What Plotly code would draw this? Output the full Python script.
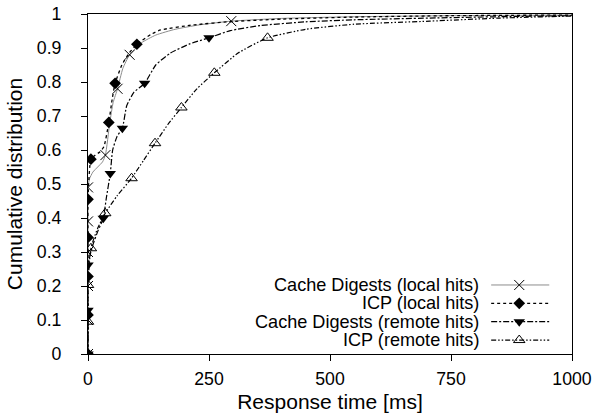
import plotly.graph_objects as go

# ---- data ----
series_names = ["Cache Digests (local hits)", "ICP (local hits)",
                "Cache Digests (remote hits)", "ICP (remote hits)"]

# line traces (response time ms, cumulative fraction)
cd_local_x = [0, 0, 0, 0, 0, 0, 3, 10, 20, 30, 36, 45, 52, 61, 72, 86, 110, 140, 180, 230, 296, 400, 550, 750, 1000]
cd_local_y = [0, 0.1, 0.2, 0.3, 0.39, 0.49, 0.515, 0.535, 0.55, 0.565, 0.585, 0.68, 0.74, 0.78, 0.84, 0.88, 0.915, 0.938, 0.955, 0.968, 0.979, 0.987, 0.992, 0.995, 0.997]

icp_local_x = [0, 0, 0, 0, 0, 6, 15, 25, 33, 43, 50, 56, 70, 85, 101, 130, 150, 218, 300, 400, 550, 750, 1000]
icp_local_y = [0, 0.115, 0.228, 0.343, 0.455, 0.573, 0.585, 0.595, 0.61, 0.681, 0.75, 0.796, 0.85, 0.885, 0.911, 0.94, 0.953, 0.968, 0.978, 0.985, 0.991, 0.995, 0.997]

cd_remote_x = [0, 0, 0, 10, 20, 31.5, 38, 46, 51, 60, 71, 80, 95, 117, 140, 170, 210, 250, 294, 356, 450, 550, 706, 850, 1000]
cd_remote_y = [0, 0.129, 0.262, 0.32, 0.36, 0.399, 0.46, 0.531, 0.6, 0.64, 0.664, 0.73, 0.77, 0.796, 0.85, 0.885, 0.912, 0.93, 0.951, 0.966, 0.977, 0.983, 0.988, 0.992, 0.995]

icp_remote_x = [0, 0, 0, 6, 20, 35.6, 60, 90, 115, 138.5, 165, 193, 225, 261, 310, 371, 450, 550, 706, 850, 1000]
icp_remote_y = [0, 0.095, 0.203, 0.311, 0.37, 0.414, 0.465, 0.517, 0.57, 0.62, 0.675, 0.725, 0.78, 0.827, 0.885, 0.930, 0.955, 0.97, 0.979, 0.988, 0.994]

# marker positions
cd_local_mx = [0, 0, 0, 0, 0, 0, 36, 61, 86, 296]
cd_local_my = [0, 0.1, 0.2, 0.3, 0.39, 0.49, 0.585, 0.78, 0.88, 0.979]
icp_local_mx = [0, 0, 0, 0, 0, 6, 43, 56, 101]
icp_local_my = [0, 0.115, 0.228, 0.343, 0.455, 0.573, 0.681, 0.796, 0.911]
cd_remote_mx = [0, 0, 0, 31.5, 46, 71, 117, 250]
cd_remote_my = [0, 0.129, 0.262, 0.399, 0.531, 0.664, 0.796, 0.930]
icp_remote_mx = [0, 0, 0, 6, 35.6, 90, 138.5, 193, 261, 371]
icp_remote_my = [0, 0.095, 0.203, 0.311, 0.414, 0.517, 0.62, 0.725, 0.827, 0.930]

x_ticks = [0, 250, 500, 750, 1000]
y_ticks = [0, 0.1, 0.2, 0.3, 0.4, 0.5, 0.6, 0.7, 0.8, 0.9, 1]
y_tick_text = ["0", "0.1", "0.2", "0.3", "0.4", "0.5", "0.6", "0.7", "0.8", "0.9", "1"]

# ---- styles ----
line_styles = [
    dict(color="#8c8c8c", width=1, dash="solid"),
    dict(color="black", width=1.3, dash="dot"),
    dict(color="black", width=1.2, dash="6px,2px,2px,2px"),
    dict(color="black", width=1.2, dash="5px,2px,1.5px,2px,1.5px,2px"),
]
marker_styles = [
    dict(symbol="x-thin-open", size=10, color="black", line=dict(color="black", width=1)),
    dict(symbol="diamond", size=9, color="black", line=dict(color="black", width=0)),
    dict(symbol="triangle-down", size=10, color="black", line=dict(color="black", width=0)),
    dict(symbol="triangle-up-open", size=10, color="black", line=dict(color="black", width=1)),
]

lines = [(cd_local_x, cd_local_y), (icp_local_x, icp_local_y),
         (cd_remote_x, cd_remote_y), (icp_remote_x, icp_remote_y)]
marks = [(cd_local_mx, cd_local_my), (icp_local_mx, icp_local_my),
         (cd_remote_mx, cd_remote_my), (icp_remote_mx, icp_remote_my)]

FS = 17.7
FS_LEG = 18.1
fig = go.Figure()
for i in range(4):
    fig.add_trace(go.Scatter(x=lines[i][0], y=lines[i][1], mode="lines",
                             line=dict(**line_styles[i], shape="spline", smoothing=0.5),
                             showlegend=False, hoverinfo="skip"))
for i in range(4):
    fig.add_trace(go.Scatter(x=marks[i][0], y=marks[i][1], mode="markers",
                             marker=marker_styles[i], name=series_names[i], showlegend=False))

# ---- manual legend (text left, sample right) on overlay axes ----
leg_rows = [0.203, 0.149, 0.095, 0.041]
for i in range(4):
    fig.add_trace(go.Scatter(x=[0.833, 0.953], y=[leg_rows[i], leg_rows[i]], mode="lines",
                             line=line_styles[i], xaxis="x2", yaxis="y2",
                             showlegend=False, hoverinfo="skip"))
    fig.add_trace(go.Scatter(x=[0.891], y=[leg_rows[i]], mode="markers",
                             marker=marker_styles[i], xaxis="x2", yaxis="y2",
                             showlegend=False, hoverinfo="skip"))
    fig.add_annotation(x=0.812, y=leg_rows[i], xref="x2", yref="y2", text=series_names[i],
                       showarrow=False, xanchor="right", yanchor="middle",
                       font=dict(size=FS_LEG, color="black"))

font_family = "Liberation Sans, Arial, sans-serif"
fig.update_layout(
    width=593, height=417,
    margin=dict(l=88, r=21, t=14, b=63, autoexpand=False),
    paper_bgcolor="white", plot_bgcolor="white",
    font=dict(family=font_family, size=FS, color="black"),
    xaxis=dict(range=[0, 1000], tickvals=x_ticks, ticktext=[str(v) for v in x_ticks],
               ticks="outside", ticklen=6, tickcolor="black", showline=True, linecolor="black",
               linewidth=1, mirror=True, showgrid=False, zeroline=False, automargin=False,
               ticklabeloverflow="allow",
               title=dict(text="Response time [ms]", standoff=6), ticklabelstandoff=3),
    yaxis=dict(range=[0, 1], tickvals=y_ticks, ticktext=y_tick_text,
               ticks="outside", ticklen=6, tickcolor="black", showline=True, linecolor="black",
               linewidth=1, mirror=True, showgrid=False, zeroline=False, automargin=False,
               ticklabeloverflow="allow",
               title=dict(text="Cumulative distribution", standoff=8), ticklabelstandoff=16),
    xaxis2=dict(overlaying="x", range=[0, 1], visible=False),
    yaxis2=dict(overlaying="y", range=[0, 1], visible=False),
)

# remove the page's default 8px body margin so the figure sits at the window corner
fig.write_html("out.html", config={"displayModeBar": False},
               post_script="document.body.style.margin='0px';")
